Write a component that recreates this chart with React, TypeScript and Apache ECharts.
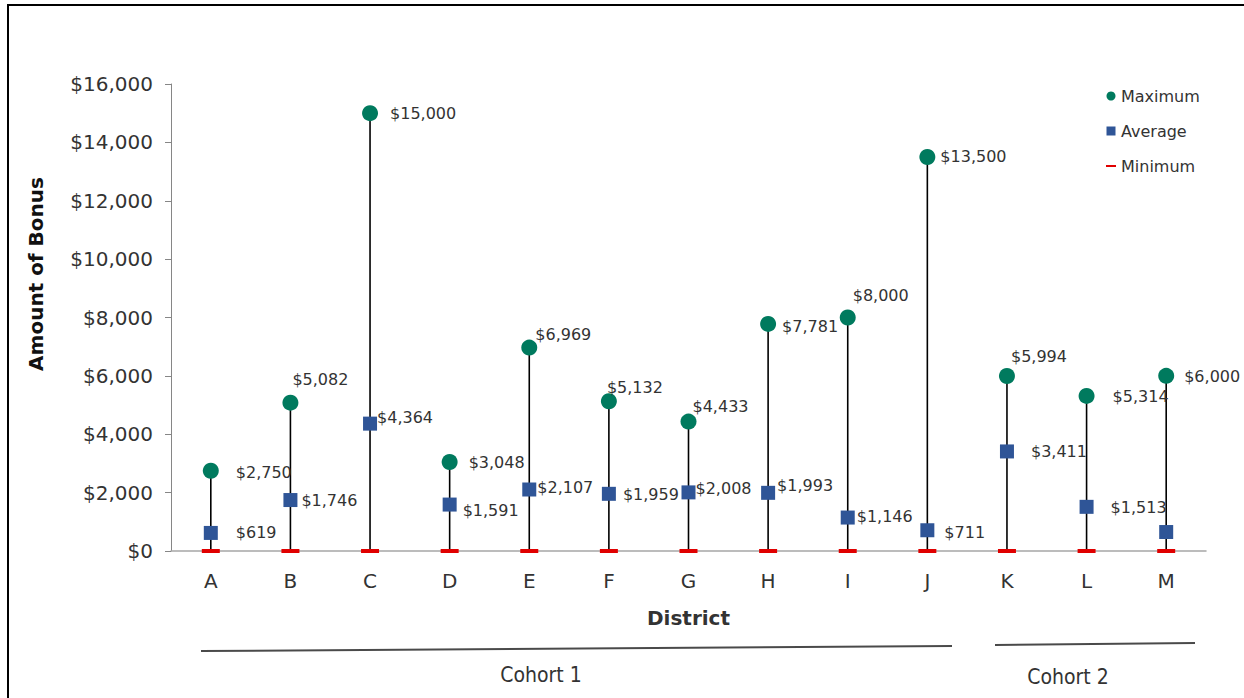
import React, { useEffect, useRef } from "react";
import * as echarts from "echarts";

const districts = ["A", "B", "C", "D", "E", "F", "G", "H", "I", "J", "K", "L", "M"];
const maximumValues = [2750, 5082, 15000, 3048, 6969, 5132, 4433, 7781, 8000, 13500, 5994, 5314, 6000];
const averageValues = [619, 1746, 4364, 1591, 2107, 1959, 2008, 1993, 1146, 711, 3411, 1513, 650];
const minimumValues = [0, 0, 0, 0, 0, 0, 0, 0, 0, 0, 0, 0, 0];
const averageLabelShown = [true, true, true, true, true, true, true, true, true, true, true, true, false];
const yTicks = { min: 0, max: 16000, interval: 2000 };
const cohorts = ["Cohort 1", "Cohort 2"];

// label layout (offsets from the right edge of each marker)
const maxLabelOffsets: [number, number][] = [
  [17, 2], [-6, -23], [12, 0], [11, 0], [-2, -13], [-10, -14], [-4, -15],
  [6, 3], [-3, -22], [5, 0], [-4, -20], [18, 1], [10, 1],
];
const avgLabelOffsets: [number, number][] = [
  [18, 0], [4, 0], [0, -6], [6, 6], [1, -2], [7, 1], [0, -4],
  [2, -7], [2, -1], [10, 2], [17, 0], [17, 1], [0, 0],
];

const FONT = "'DejaVu Sans', 'Liberation Sans', Arial, sans-serif";
const TEXT = "#333333";
const GREEN = "#007A5E";
const BLUE = "#2F5597";
const RED = "#E00000";

const money = (v: number) => "$" + v.toLocaleString("en-US");

export default function App() {
  const ref = useRef<HTMLDivElement>(null);
  useEffect(() => {
    if (!ref.current) return;
    const chart = echarts.init(ref.current, null, { renderer: "svg" });
    const option: any = {
      animation: false,
      backgroundColor: "#ffffff",
      grid: { left: 171, right: 38, top: 84, bottom: 147 },
      legend: {
        orient: "vertical",
        left: 1101,
        top: 83,
        itemWidth: 10,
        itemHeight: 9,
        itemGap: 19,
        textStyle: { fontFamily: FONT, fontSize: 16, color: TEXT, lineHeight: 16 },
        data: [
          { name: "Maximum", icon: "circle" },
          { name: "Average", icon: "path://M0,0h10v10h-10z" },
          { name: "Minimum", icon: "path://M0,0h10v2h-10z" },
        ],
      },
      xAxis: {
        type: "category",
        data: districts,
        boundaryGap: true,
        name: "District",
        nameLocation: "middle",
        nameGap: 57,
        nameTextStyle: { fontFamily: FONT, fontSize: 20, fontWeight: "bold", color: TEXT },
        axisLine: { lineStyle: { color: "#A6A6A6", width: 1.5 } },
        axisTick: { show: false },
        axisLabel: { fontFamily: FONT, fontSize: 20, color: TEXT, margin: 20 },
        splitLine: { show: false },
      },
      yAxis: {
        type: "value",
        min: yTicks.min,
        max: yTicks.max,
        interval: yTicks.interval,
        axisLine: { show: true, lineStyle: { color: "#868686", width: 1 } },
        axisTick: { show: true, inside: false, length: 6, lineStyle: { color: "#868686" } },
        axisLabel: { fontFamily: FONT, fontSize: 20, color: TEXT, margin: 18, formatter: (v: number) => money(v) },
        splitLine: { show: false },
      },
      graphic: [
        { type: "line", shape: { x1: 7, y1: 5, x2: 1244, y2: 5 }, style: { stroke: "#000", lineWidth: 2 } },
        { type: "line", shape: { x1: 8, y1: 4, x2: 8, y2: 698 }, style: { stroke: "#000", lineWidth: 2 } },
        {
          type: "text",
          x: 36,
          y: 274,
          rotation: Math.PI / 2,
          style: {
            text: "Amount of Bonus",
            fontFamily: FONT,
            fontSize: 20,
            fontWeight: "bold",
            fill: "#111",
            textAlign: "center",
            textVerticalAlign: "middle",
          },
        },
        { type: "line", shape: { x1: 201, y1: 651, x2: 952, y2: 646 }, style: { stroke: "#4a4a4a", lineWidth: 2 } },
        { type: "line", shape: { x1: 995, y1: 645, x2: 1195, y2: 643 }, style: { stroke: "#4a4a4a", lineWidth: 2 } },
        {
          type: "text",
          x: 541,
          y: 675,
          style: {
            text: cohorts[0],
            fontFamily: "'DejaVu Sans Condensed', 'DejaVu Sans', sans-serif",
            fontSize: 21,
            fill: TEXT,
            textAlign: "center",
            textVerticalAlign: "middle",
          },
        },
        {
          type: "text",
          x: 1068,
          y: 677,
          style: {
            text: cohorts[1],
            fontFamily: "'DejaVu Sans Condensed', 'DejaVu Sans', sans-serif",
            fontSize: 21,
            fill: TEXT,
            textAlign: "center",
            textVerticalAlign: "middle",
          },
        },
      ],
      series: [
        {
          name: "Range",
          type: "custom",
          z: 1,
          silent: true,
          data: districts.map((_, i) => [i, minimumValues[i], maximumValues[i]]),
          encode: { x: 0, y: [1, 2] },
          renderItem: (params: any, api: any) => {
            const lo = api.coord([api.value(0), api.value(1)]);
            const hi = api.coord([api.value(0), api.value(2)]);
            return {
              type: "line",
              shape: { x1: lo[0], y1: lo[1], x2: hi[0], y2: hi[1] },
              style: { stroke: "#000000", lineWidth: 1.6 },
            };
          },
        },
        {
          name: "Minimum",
          type: "scatter",
          z: 3,
          symbol: "rect",
          symbolSize: [18, 4],
          itemStyle: { color: RED, opacity: 1 },
          data: minimumValues,
        },
        {
          name: "Average",
          type: "scatter",
          z: 4,
          symbol: "rect",
          symbolSize: 14,
          itemStyle: { color: BLUE, opacity: 1 },
          label: {
            show: true,
            position: "right",
            distance: 0,
            fontFamily: FONT,
            fontSize: 16,
            color: TEXT,
            formatter: (p: any) => money(p.value),
          },
          data: averageValues.map((v, i) => ({
            value: v,
            label: { show: averageLabelShown[i], offset: avgLabelOffsets[i] },
          })),
        },
        {
          name: "Maximum",
          type: "scatter",
          z: 4,
          symbol: "circle",
          symbolSize: 16,
          itemStyle: { color: GREEN, opacity: 1 },
          label: {
            show: true,
            position: "right",
            distance: 0,
            fontFamily: FONT,
            fontSize: 16,
            color: TEXT,
            formatter: (p: any) => money(p.value),
          },
          data: maximumValues.map((v, i) => ({
            value: v,
            label: { offset: maxLabelOffsets[i] },
          })),
        },
      ],
    };
    chart.setOption(option);
    return () => chart.dispose();
  }, []);
  return (
    <div
      ref={ref}
      style={{ position: "absolute", left: 0, top: 0, width: 1244, height: 698, background: "#fff" }}
    />
  );
}
